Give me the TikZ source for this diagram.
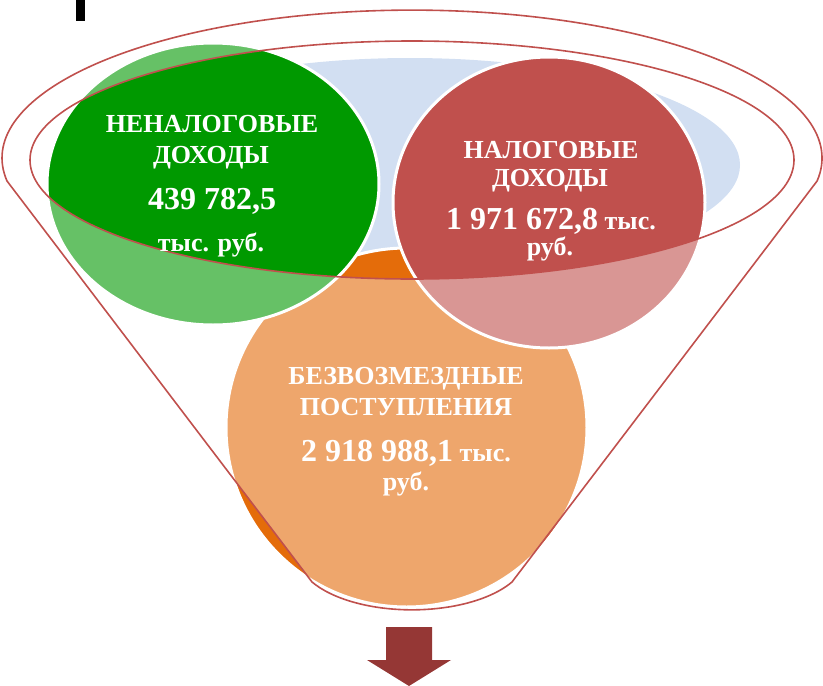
\documentclass[tikz,border=0pt]{standalone}
\usepackage{fontspec}
\setmainfont{Liberation Serif}
\definecolor{gdark}{HTML}{009900}
\definecolor{rdark}{HTML}{C0504D}
\definecolor{odark}{HTML}{E46C0A}
\definecolor{lblue}{HTML}{D2DFF2}
\definecolor{fline}{HTML}{C0504D}
\definecolor{arrowc}{HTML}{953735}
\tikzset{
  bubble/.style={draw=white, line width=3pt},
  lbl/.style={text=white, anchor=base, inner sep=0pt, font=\fontsize{26}{30}\selectfont\bfseries},
  num/.style={font=\fontsize{32}{36}\selectfont\bfseries},
  rimline/.style={draw=fline, line width=1.6pt},
}
\def\funnelpath{(7,181) arc[start angle=171.1, end angle=368.9, x radius=410, y radius=148] -- (512,582) arc[start angle=29.6, end angle=150.4, x radius=115, y radius=55] -- cycle}
\begin{document}
\begin{tikzpicture}[x=1pt,y=-1pt]
\useasboundingbox (0,0) rectangle (823,686);
% black bar at top
\fill[black] (76,0) rectangle (85,21);
% light blue top
\fill[lblue] (410,165) ellipse[x radius=330, y radius=107];
% circles
\path[fill=odark, bubble] (406.5,427.5) ellipse[x radius=180.5, y radius=179.5];
\path[fill=gdark, bubble] (213,184) ellipse[x radius=166, y radius=141];
\path[fill=rdark, bubble] (549,202.5) ellipse[x radius=156, y radius=145.5];
% funnel overlay
\fill[white, fill opacity=0.4, even odd rule] \funnelpath (412,160) ellipse[x radius=382, y radius=119];
\draw[rimline, line join=round] \funnelpath;
\draw[rimline] (412,160) ellipse[x radius=382, y radius=119];
% texts
\node[lbl] (g1) at (212,132) {НЕНАЛОГОВЫЕ};
\node[lbl] (g2) at (211,163) {ДОХОДЫ};
\node[lbl, num] (g3) at (212,209) {439 782,5};
\node[lbl] (g4) at (211,251) {тыс. руб.};
\node[lbl] (r1) at (551,158) {НАЛОГОВЫЕ};
\node[lbl] (r2) at (550,186) {ДОХОДЫ};
\node[lbl] (r3) at (551,229) {{\fontsize{32}{36}\selectfont 1 971 672,8} тыс.};
\node[lbl] (r4) at (550,255) {руб.};
\node[lbl] (o1) at (406,384) {БЕЗВОЗМЕЗДНЫЕ};
\node[lbl] (o2) at (406,415) {ПОСТУПЛЕНИЯ};
\node[lbl] (o3) at (406,461) {{\fontsize{32}{36}\selectfont 2 918 988,1} тыс.};
\node[lbl] (o4) at (406,490) {руб.};
% arrow
\fill[arrowc] (386,627) -- (432,627) -- (432,660) -- (451,660) -- (409,686) -- (367,660) -- (386,660) -- cycle;
\end{tikzpicture}
\end{document}
